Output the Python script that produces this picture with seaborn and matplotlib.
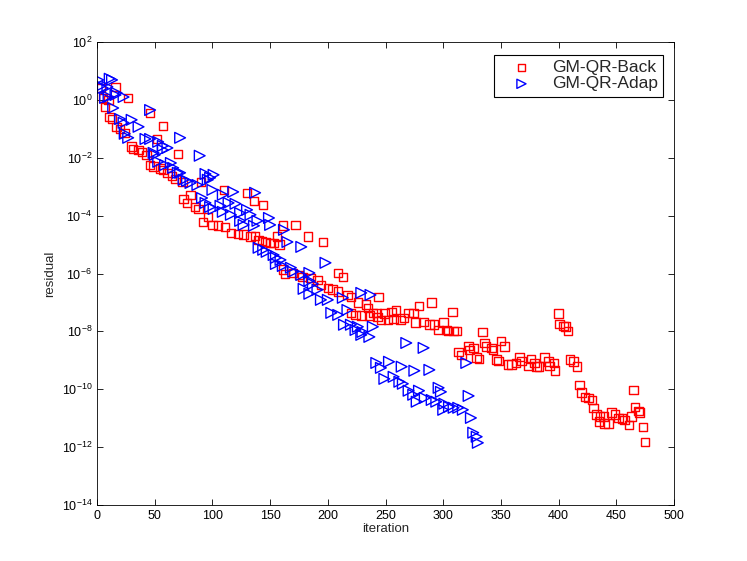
import matplotlib

matplotlib.use("Agg")

import matplotlib.pyplot as plt
import numpy as np
import seaborn as sns
from matplotlib.ticker import LogLocator, NullLocator

# residual history (iteration, log10 residual)
back_iter = [3, 5, 7, 10, 11, 13, 16, 17, 20, 24, 27, 30, 31, 36, 39, 43, 46, 46, 49, 52,
             55, 57, 57, 61, 65, 68, 70, 74, 75, 78, 81, 85, 88, 90, 92, 96, 100, 105, 110, 111,
             116, 122, 127, 130, 133, 136, 137, 140, 143, 144, 146, 150, 153, 156, 158, 161, 161, 163, 170, 172,
             175, 178, 183, 185, 191, 194, 196, 200, 204, 209, 209, 213, 217, 220, 226, 233, 235, 220, 224, 229,
             236, 239, 242, 243, 244, 246, 249, 252, 255, 257, 259, 263, 266, 270, 274, 276, 279, 283, 288, 290,
             292, 296, 300, 303, 308, 304, 309, 312, 313, 316, 322, 323, 326, 329, 331, 334, 336, 337, 342, 343,
             346, 348, 350, 353, 356, 359, 363, 366, 368, 374, 376, 379, 381, 383, 388, 391, 392, 396, 397, 400,
             401, 404, 406, 408, 410, 413, 416, 418, 420, 423, 426, 429, 430, 433, 435, 436, 439, 440, 443, 446,
             449, 452, 455, 457, 461, 463, 465, 466, 469, 470, 473, 475]
back_log = [0.41, 0.07, -0.24, 0.0, -0.59, -0.66, 0.45, -0.93, -1.0, -1.14, 0.07, -1.62, -1.69, -1.73, -1.80, -1.90, -0.45, -2.25, -2.31, -1.35,
            -2.38, -0.90, -2.42, -2.52, -2.63, -2.73, -1.87, -2.83, -3.42, -3.56, -3.28, -3.70, -3.77, -2.83, -4.22, -4.04, -4.32, -4.35, -3.11, -4.39,
            -4.60, -4.63, -4.66, -3.21, -4.73, -3.49, -4.70, -4.84, -4.87, -3.63, -4.91, -4.94, -4.94, -4.73, -5.00, -4.35, -5.87, -6.01, -5.98, -4.32,
            -6.05, -6.12, -4.73, -6.15, -6.22, -6.39, -4.91, -6.50, -6.56, -5.98, -6.63, -6.12, -6.74, -6.81, -7.01, -7.08, -7.19, -7.36, -7.43, -7.46,
            -7.46, -7.36, -7.36, -7.50, -6.81, -7.60, -7.39, -7.60, -7.33, -7.57, -7.26, -7.60, -7.53, -7.36, -7.36, -7.70, -7.12, -7.67, -7.77, -7.01,
            -7.77, -7.95, -7.70, -7.95, -7.33, -7.98, -7.98, -7.98, -8.71, -8.81, -8.50, -8.64, -8.57, -8.91, -8.95, -8.02, -8.40, -8.53, -8.57, -8.64,
            -8.98, -9.02, -8.33, -8.53, -9.15, -9.15, -9.09, -8.88, -9.02, -9.19, -8.95, -9.09, -9.22, -9.22, -8.91, -9.05, -9.19, -9.09, -9.36, -7.39,
            -7.74, -7.81, -7.84, -7.98, -8.98, -9.05, -9.22, -9.85, -10.12, -10.26, -10.30, -10.37, -10.64, -10.88, -11.12, -10.95, -10.95, -11.19, -11.19, -10.81,
            -10.88, -10.99, -11.02, -11.06, -11.23, -10.95, -10.02, -10.61, -10.75, -10.81, -11.30, -11.82]

adap_iter = [1, 3, 5, 9, 11, 13, 7, 10, 16, 17, 23, 14, 20, 30, 23, 24, 27, 36, 42, 46,
             46, 49, 50, 53, 53, 57, 57, 61, 59, 64, 66, 70, 72, 72, 75, 78, 81, 87, 89, 94,
             101, 98, 96, 100, 109, 118, 137, 91, 94, 98, 107, 114, 120, 101, 109, 116, 124, 130, 133, 139,
             149, 124, 127, 136, 150, 162, 165, 177, 140, 144, 147, 153, 155, 155, 159, 161, 168, 198, 170, 177,
             184, 184, 187, 191, 179, 184, 194, 200, 213, 229, 237, 217, 203, 209, 214, 220, 224, 230, 236, 239,
             229, 226, 268, 283, 242, 246, 253, 264, 275, 288, 249, 257, 262, 265, 270, 274, 279, 277, 284, 290,
             294, 296, 298, 301, 300, 305, 309, 313, 317, 320, 322, 324, 326, 329, 330]
adap_log = [0.69, 0.48, 0.41, 0.45, 0.73, 0.69, 0.07, 0.10, 0.17, 0.24, 0.10, -0.28, -0.66, -0.69, -0.79, -1.17, -1.31, -0.93, -1.35, -1.35,
            -0.35, -1.83, -1.90, -1.45, -2.14, -1.59, -1.73, -1.66, -2.25, -2.18, -2.35, -2.52, -1.31, -2.52, -2.76, -2.80, -2.87, -2.94, -1.93, -2.56,
            -2.59, -2.69, -2.76, -3.11, -3.28, -3.18, -3.21, -3.39, -3.56, -3.70, -3.66, -3.56, -3.59, -3.77, -3.87, -3.97, -3.91, -3.80, -3.97, -4.18,
            -4.08, -4.18, -4.32, -4.35, -4.32, -4.49, -4.91, -5.08, -5.11, -5.18, -5.25, -5.36, -5.46, -5.67, -5.53, -5.74, -5.80, -5.63, -5.94, -6.05,
            -5.98, -6.25, -6.36, -6.56, -6.53, -6.70, -6.91, -6.91, -6.84, -6.67, -6.74, -7.26, -7.36, -7.43, -7.77, -7.77, -7.95, -8.02, -8.19, -7.84,
            -8.12, -7.84, -8.40, -8.57, -9.09, -9.26, -9.05, -9.22, -9.36, -9.33, -9.64, -9.57, -9.74, -9.81, -10.05, -10.19, -10.05, -10.43, -10.30, -10.37,
            -10.43, -9.95, -10.09, -10.50, -10.71, -10.61, -10.64, -10.64, -10.71, -9.09, -10.23, -10.99, -11.50, -11.64, -11.85]

sns.set_style("ticks")
plt.rcParams["font.family"] = ["Liberation Sans", "DejaVu Sans"]
plt.rcParams["mathtext.default"] = "regular"

figure = plt.figure(figsize=(7.47, 5.61), dpi=100)
axis = figure.add_axes([0.1299, 0.0998, 0.7724, 0.8253])

sns.scatterplot(x=back_iter, y=10.0 ** np.asarray(back_log), marker="s", s=38,
                color="red", facecolor="none", edgecolor="red", linewidth=1.0,
                label="GM-QR-Back", ax=axis)
sns.scatterplot(x=adap_iter, y=10.0 ** np.asarray(adap_log), marker=">", s=60,
                color="blue", facecolor="none", edgecolor="blue", linewidth=1.0,
                label="GM-QR-Adap", ax=axis)

axis.set_yscale("log")
axis.set_xlim(0, 500)
axis.set_ylim(1e-14, 1e2)
axis.set_xticks(np.arange(0, 501, 50))
axis.yaxis.set_major_locator(LogLocator(base=100.0, numticks=20))
axis.yaxis.set_minor_locator(NullLocator())
axis.tick_params(direction="in", top=True, right=True, length=4.5, width=0.6,
                 labelsize=9, colors="black")
for spine in axis.spines.values():
    spine.set_visible(True)
    spine.set_linewidth(0.6)
    spine.set_color("black")

axis.set_xlabel("iteration", fontsize=9.5, labelpad=1)
axis.set_ylabel("residual", fontsize=9.5, labelpad=4)

legend = axis.legend(loc="upper right", bbox_to_anchor=(0.981, 0.972), borderaxespad=0,
                     fontsize=12.5, frameon=True, fancybox=False, framealpha=1,
                     edgecolor="black", labelspacing=0.05, borderpad=0.3,
                     handlelength=2.6, handletextpad=0.45, markerscale=0.85)
legend.get_frame().set_linewidth(0.8)

figure.savefig("out.png", dpi=100)
